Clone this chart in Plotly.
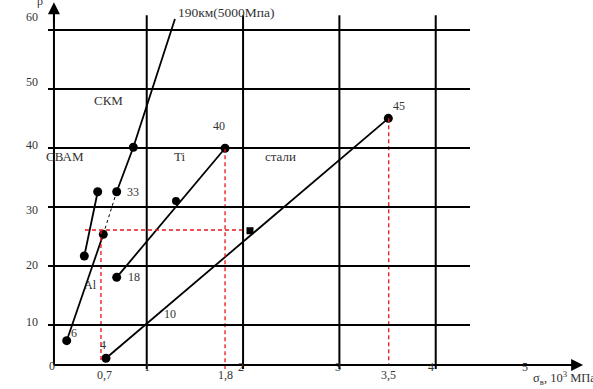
import plotly.graph_objects as go

# ---- data (diagram coordinates: x = sigma_v, 10^3 MPa ; y = rho-scale) ----
y_grid = [10, 20, 30, 40, 50, 60]
y_tick_labels = ["10", "20", "30", "40", "50", "60"]
y_label_pos = [10.5, 20.2, 29.5, 40.5, 51.2, 62.2]
x_grid = [1, 2, 3, 4]
x_tick_labels = ["1", "2", "3", "4", "5"]
x_label_pos = [1.0, 1.98, 2.985, 3.95, 4.93]
baseline = 3.22

# Al + SKM line
al_x = [0.169, 0.549]
al_y = [7.34, 25.37]
al_dot_x = [0.549, 0.688]
al_dot_y = [25.37, 32.59]
skm_x = [0.688, 0.861, 1.293]
skm_y = [32.59, 40.12, 61.86]
skm_marker_x = [0.169, 0.549, 0.688, 0.861]
skm_marker_y = [7.34, 25.37, 32.59, 40.12]

# SVAM
svam_x = [0.352, 0.491]
svam_y = [21.69, 32.59]

# Ti
ti_x = [0.688, 1.813]
ti_y = [18.08, 39.95]
ti_mid_x = [1.304]
ti_mid_y = [31.02]

# steels
st_x = [0.577, 3.508]
st_y = [4.36, 45.03]
st_mid_x = [2.072]
st_mid_y = [25.98]

# red reference lines
ref_h_x = [0.359, 2.0]
ref_h_y = 26.1
ref_v = [(0.525, 26.1, 3.56), (1.813, 39.95, 2.54), (3.512, 45.03, 3.2)]
ref_labels = ["0,7", "1,8", "3,5"]
ref_label_x = [0.566, 1.813, 3.505]

FONT = "Liberation Serif"
TXT = "#333333"

fig = go.Figure()

# grid lines
for g in y_grid:
    fig.add_shape(type="line", x0=-0.025, x1=4.356, y0=g, y1=g, xref="x", yref="y",
                  line=dict(color="black", width=2))
for g in x_grid:
    fig.add_shape(type="line", x0=g, x1=g, y0=2.54, y1=62.5, xref="x", yref="y",
                  line=dict(color="black", width=2))
# axes
fig.add_shape(type="line", x0=0.037, x1=5.45, y0=baseline, y1=baseline, xref="x", yref="y",
              line=dict(color="black", width=2))
fig.add_shape(type="line", x0=0.037, x1=0.037, y0=baseline, y1=63.5, xref="x", yref="y",
              line=dict(color="black", width=2))

line_style = dict(color="black", width=1.8)
mk = dict(color="black", size=9, symbol="circle")

fig.add_trace(go.Scatter(x=al_x, y=al_y, mode="lines", line=line_style))
fig.add_trace(go.Scatter(x=al_dot_x, y=al_dot_y, mode="lines",
                         line=dict(color="black", width=1, dash="dot")))
fig.add_trace(go.Scatter(x=skm_x, y=skm_y, mode="lines", line=line_style))
fig.add_trace(go.Scatter(x=skm_marker_x, y=skm_marker_y, mode="markers", marker=mk))
fig.add_trace(go.Scatter(x=svam_x, y=svam_y, mode="lines+markers", line=line_style, marker=mk))
fig.add_trace(go.Scatter(x=ti_x, y=ti_y, mode="lines+markers", line=line_style, marker=mk))
fig.add_trace(go.Scatter(x=ti_mid_x, y=ti_mid_y, mode="markers", marker=dict(color="black", size=8)))
fig.add_trace(go.Scatter(x=st_x, y=st_y, mode="lines+markers", line=line_style, marker=mk))
fig.add_trace(go.Scatter(x=st_mid_x, y=st_mid_y, mode="markers",
                         marker=dict(color="black", size=7, symbol="square")))

red = dict(color="#e8141b", width=1.3, dash="4px,3px")
fig.add_trace(go.Scatter(x=ref_h_x, y=[ref_h_y, ref_h_y], mode="lines", line=red))
for (xv, y0, y1) in ref_v:
    fig.add_trace(go.Scatter(x=[xv, xv], y=[y0, y1], mode="lines", line=red))

def txt(x, y, s, size=12, xanchor="center"):
    fig.add_annotation(x=x, y=y, text=s, showarrow=False, xref="x", yref="y",
                       xanchor=xanchor, yanchor="middle",
                       font=dict(family=FONT, size=size, color=TXT))

for lab, pos in zip(y_tick_labels, y_label_pos):
    txt(-0.191, pos, lab)
txt(0.017, 3.05, "0")
for lab, pos in zip(x_tick_labels, x_label_pos):
    txt(pos, 2.9, lab)
for lab, pos in zip(ref_labels, ref_label_x):
    txt(pos, 1.53, lab)

txt(4.99, 1.0, "σ<sub>в</sub>, 10<sup>3</sup> МПа", size=12.5, xanchor="left")
txt(-0.108, 65.0, "ρ", size=12)

point_labels = [
    (0.857, 32.54, "33"), (1.75, 43.7, "40"), (3.619, 47.1, "45"), (0.868, 18.1, "18"),
    (0.421, 16.8, "Al"), (0.245, 8.64, "6"), (0.546, 6.61, "4"), (1.242, 11.86, "10"),
]
for (x, y, s) in point_labels:
    txt(x, y, s)
word_labels = [
    (0.598, 48.1, "СКМ"), (0.152, 38.5, "СВАМ"), (1.335, 38.5, "Ti"), (2.384, 38.5, "стали"),
]
for (x, y, s) in word_labels:
    txt(x, y, s, size=13)
txt(1.304, 63.05, "190км(5000Мпа)", size=13.5, xanchor="left")

# arrowheads
fig.add_annotation(x=5.53, y=baseline, ax=5.2, ay=baseline, xref="x", yref="y",
                   axref="x", ayref="y", showarrow=True, arrowhead=2, arrowsize=1.2,
                   arrowwidth=2, arrowcolor="black", text="", standoff=0)
fig.add_annotation(x=0.037, y=64.7, ax=0.037, ay=61.0, xref="x", yref="y",
                   axref="x", ayref="y", showarrow=True, arrowhead=2, arrowsize=1.2,
                   arrowwidth=2, arrowcolor="black", text="", standoff=0)

x0 = -50.4 / 96.33
x1 = (593 - 50.4) / 96.33
ytop = 384 / 5.9
ybot = (384 - 389) / 5.9
fig.update_layout(
    width=593, height=389, margin=dict(l=0, r=0, t=0, b=0),
    plot_bgcolor="white", paper_bgcolor="white", showlegend=False,
    xaxis=dict(range=[x0, x1], visible=False, fixedrange=True),
    yaxis=dict(range=[ybot, ytop], visible=False, fixedrange=True),
)
fig.write_html("out.html", config={"displayModeBar": False},
               post_script="document.body.style.margin='0';document.body.style.overflow='hidden';")
